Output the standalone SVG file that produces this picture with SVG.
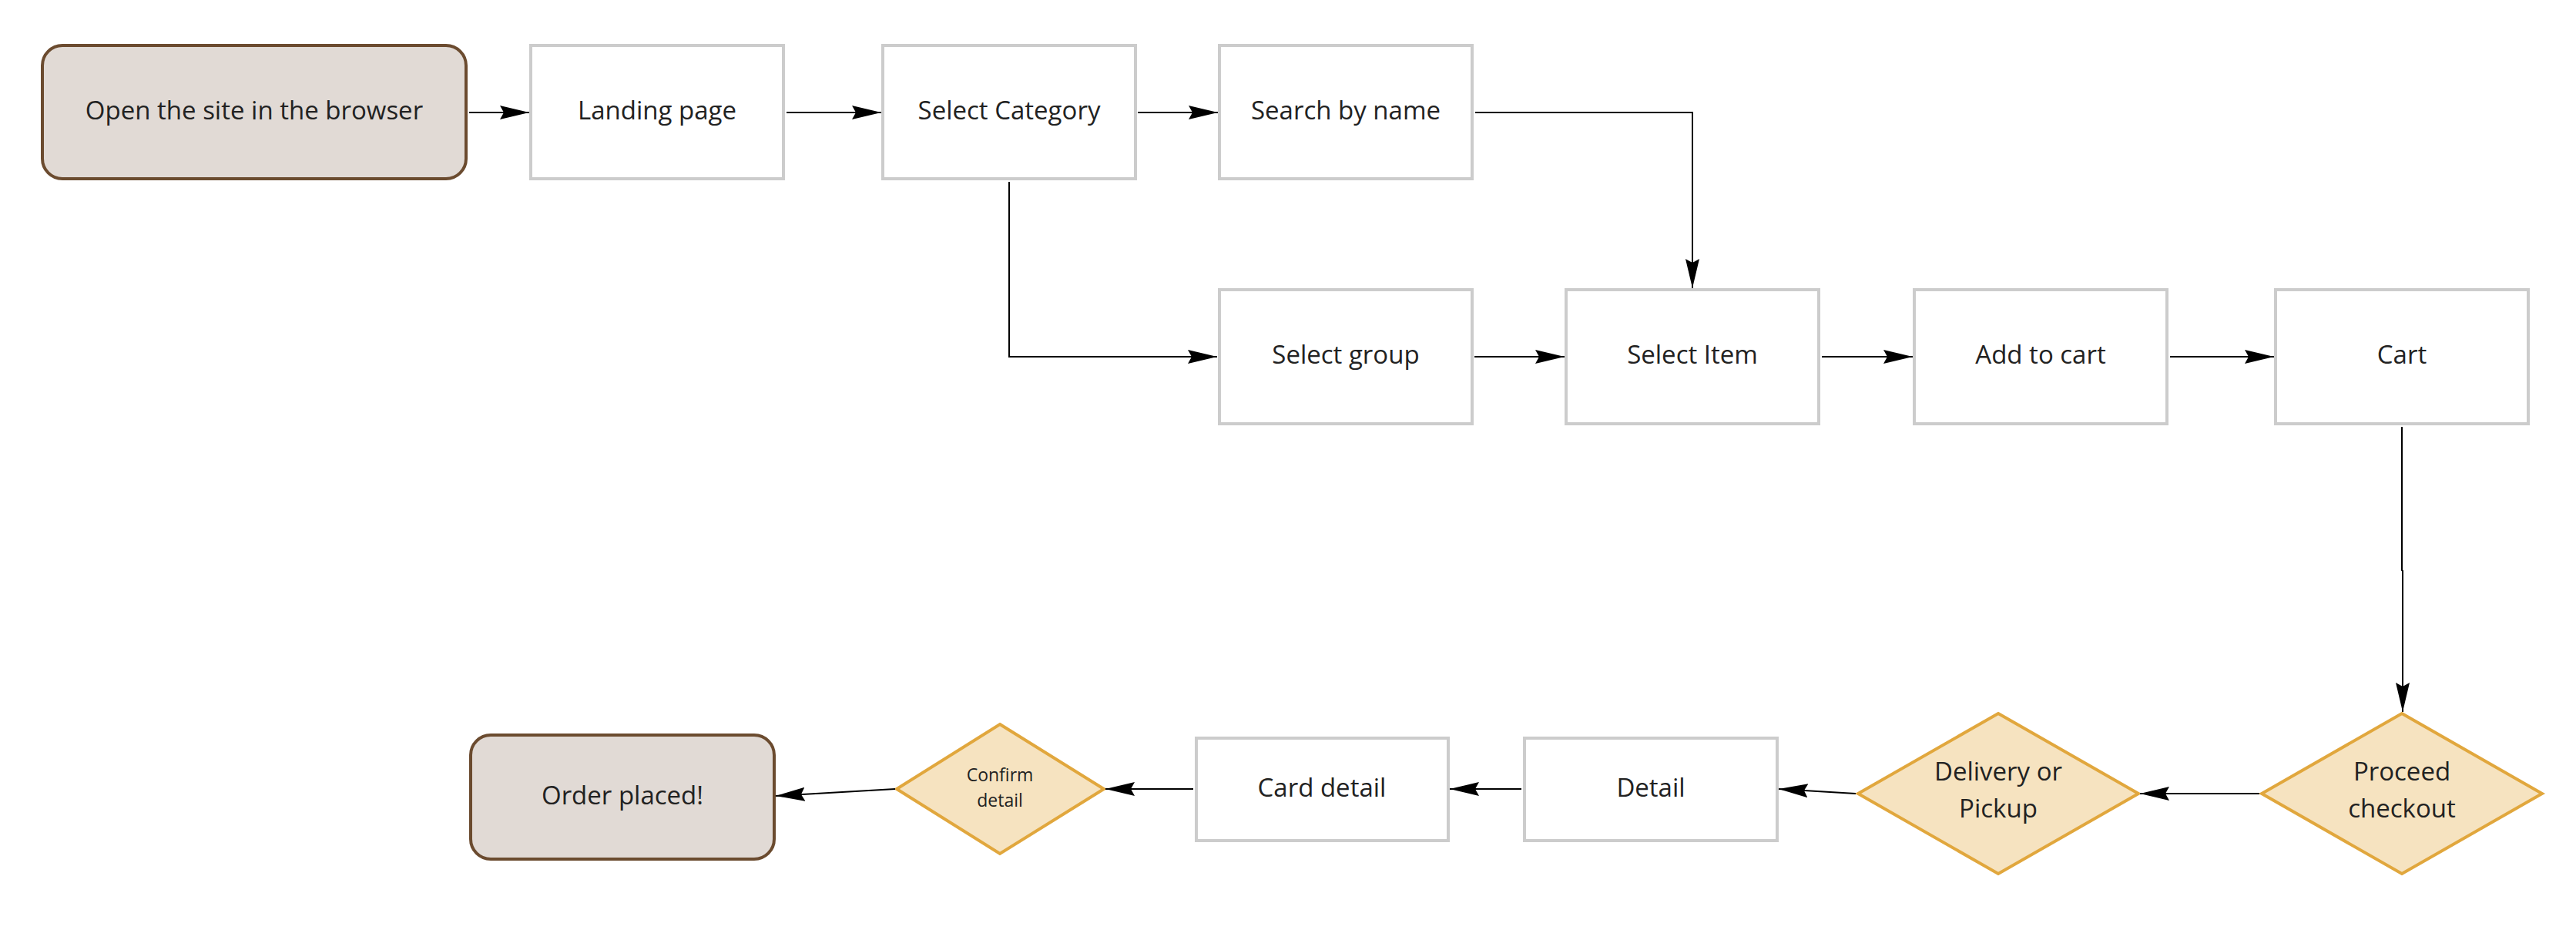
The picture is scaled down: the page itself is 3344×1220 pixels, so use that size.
<svg xmlns="http://www.w3.org/2000/svg" width="3344" height="1220" viewBox="0 0 3344 1220">
  <defs>
    <marker id="arr" markerUnits="userSpaceOnUse" markerWidth="40" markerHeight="20" refX="38" refY="9" orient="auto" viewBox="0 0 40 18">
      <path d="M0,0 L38,9 L0,18 L5,9 z" fill="#000"/>
    </marker>
    <style>
      .box { fill: #ffffff; stroke: #cccccc; stroke-width: 4; }
      .term { fill: #e1dad5; stroke: #6b4b2f; stroke-width: 4; }
      .dec { fill: #f6e3c0; stroke: #e1a73d; stroke-width: 4; }
      .lbl { font-family: "Open Sans", "Noto Sans", "Liberation Sans", sans-serif; font-size: 33px; fill: #222222; text-anchor: middle; }
      .sm { font-size: 23px; }
      .con { fill: none; stroke: #000000; stroke-width: 2; marker-end: url(#arr); }
    </style>
  </defs>
  <rect width="3344" height="1220" fill="#ffffff"/>

  <g id="open-site">
    <rect class="term" x="55" y="59" width="550" height="173" rx="26"/>
    <text class="lbl" x="330" y="155">Open the site in the browser</text>
  </g>
  <g id="landing-page">
    <rect class="box" x="689" y="59" width="328" height="173"/>
    <text class="lbl" x="853" y="155">Landing page</text>
  </g>
  <g id="select-category">
    <rect class="box" x="1146" y="59" width="328" height="173"/>
    <text class="lbl" x="1310" y="155">Select Category</text>
  </g>
  <g id="search-by-name">
    <rect class="box" x="1583" y="59" width="328" height="173"/>
    <text class="lbl" x="1747" y="155">Search by name</text>
  </g>
  <g id="select-group">
    <rect class="box" x="1583" y="376" width="328" height="174"/>
    <text class="lbl" x="1747" y="472">Select group</text>
  </g>
  <g id="select-item">
    <rect class="box" x="2033" y="376" width="328" height="174"/>
    <text class="lbl" x="2197" y="472">Select Item</text>
  </g>
  <g id="add-to-cart">
    <rect class="box" x="2485" y="376" width="328" height="174"/>
    <text class="lbl" x="2649" y="472">Add to cart</text>
  </g>
  <g id="cart">
    <rect class="box" x="2954" y="376" width="328" height="174"/>
    <text class="lbl" x="3118" y="472">Cart</text>
  </g>
  <g id="proceed-checkout">
    <polygon class="dec" points="3118,926 3300,1030 3118,1134 2936,1030"/>
    <text class="lbl" x="3118" y="1013">Proceed</text>
    <text class="lbl" x="3118" y="1061">checkout</text>
  </g>
  <g id="delivery-or-pickup">
    <polygon class="dec" points="2594,926 2776,1030 2594,1134 2412,1030"/>
    <text class="lbl" x="2594" y="1013">Delivery or</text>
    <text class="lbl" x="2594" y="1061">Pickup</text>
  </g>
  <g id="detail">
    <rect class="box" x="1979" y="958" width="328" height="133"/>
    <text class="lbl" x="2143" y="1034">Detail</text>
  </g>
  <g id="card-detail">
    <rect class="box" x="1553" y="958" width="327" height="133"/>
    <text class="lbl" x="1716" y="1034">Card detail</text>
  </g>
  <g id="confirm-detail">
    <polygon class="dec" points="1298,940 1433,1024 1298,1108 1164,1024"/>
    <text class="lbl sm" x="1298" y="1014">Confirm</text>
    <text class="lbl sm" x="1298" y="1047">detail</text>
  </g>
  <g id="order-placed">
    <rect class="term" x="611" y="954" width="394" height="161" rx="26"/>
    <text class="lbl" x="808" y="1044">Order placed!</text>
  </g>

  <g id="connectors">
    <path class="con" d="M609,146 L687,146"/>
    <path class="con" d="M1021,146 L1144,146"/>
    <path class="con" d="M1477,146 L1581,146"/>
    <path class="con" d="M1915,146 L2197,146 L2197,374"/>
    <path class="con" d="M1310,236 L1310,463 L1580,463"/>
    <path class="con" d="M1914,463 L2031,463"/>
    <path class="con" d="M2365,463 L2483,463"/>
    <path class="con" d="M2817,463 L2952,463"/>
    <path class="con" d="M3118,554 L3118,740 L3119,741 L3119,924"/>
    <path class="con" d="M2933,1030 L2778,1030"/>
    <path class="con" d="M2409,1030 L2309,1024"/>
    <path class="con" d="M1975,1024 L1882,1024"/>
    <path class="con" d="M1549,1024 L1435,1024"/>
    <path class="con" d="M1162,1024 L1007,1033"/>
  </g>
</svg>
